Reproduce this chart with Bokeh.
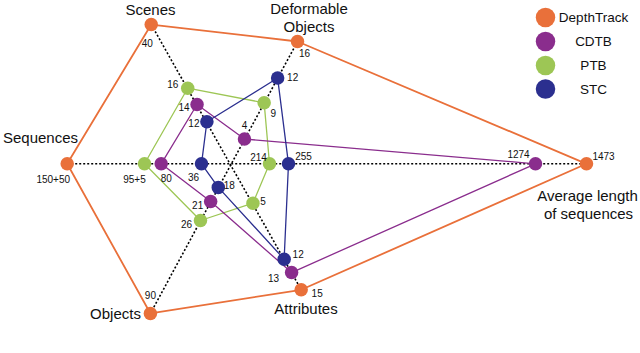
import math
from bokeh.plotting import figure
from bokeh.models import Range1d
from bokeh.core.properties import value
from bokeh.embed import file_html
from bokeh.resources import INLINE

# ---------------- data ----------------
axis_names = ["Sequences", "Scenes", "Deformable Objects",
              "Average length of sequences", "Attributes", "Objects"]
series_names = ["DepthTrack", "CDTB", "PTB", "STC"]

# printed values per axis (Sequences, Scenes, Deformable, Avg length, Attributes, Objects)
depthtrack_values = ["150+50", "40", "16", "1473", "15", "90"]
cdtb_values = ["80", "14", "4", "1274", "13", "21"]
ptb_values = ["95+5", "16", "9", "214", "5", "26"]
stc_values = ["36", "12", "12", "255", "12", "18"]

# radial position of each value along its axis (schematic scale)
depthtrack_radius = [163.8, 160.5, 139.2, 355.5, 144.2, 170.0]
cdtb_radius = [69.8, 68.3, 28.2, 304.5, 124.5, 42.9]
ptb_radius = [86.5, 87.1, 69.4, 38.5, 45.1, 64.4]
stc_radius = [29.5, 48.5, 97.6, 57.5, 109.2, 26.8]

# ---------------- layout / style ----------------
CX, CY = 230.5, 163.3
axis_angles = [180.0, 119.8, 61.46, 0.0, -60.88, 241.7]
colors = {"DepthTrack": "#E9703A", "CDTB": "#8A2D8D",
          "PTB": "#9DC655", "STC": "#2B2F8F"}
FONT = value("Liberation Sans")

label_offsets = {
    "DepthTrack": [(-14, 15), (-4, 18), (7, 11), (17, -8), (16, 3), (0, -18)],
    "CDTB": [(5, 14), (-13, 2), (0, -14), (-17, -10), (-18, 5), (-13, 3)],
    "PTB": [(-10, 15), (-15, -4), (9, 10), (-11, -7), (10, -2), (-14, 3)],
    "STC": [(-8, 13), (-13, 1), (15, -1), (15, -8), (14, -5), (11, -2)],
}

values = {"DepthTrack": depthtrack_values, "CDTB": cdtb_values,
          "PTB": ptb_values, "STC": stc_values}
radii = {"DepthTrack": depthtrack_radius, "CDTB": cdtb_radius,
         "PTB": ptb_radius, "STC": stc_radius}


def to_xy(rs):
    xs, ys = [], []
    for r, a in zip(rs, axis_angles):
        t = math.radians(a)
        xs.append(CX + r * math.cos(t))
        ys.append(CY - r * math.sin(t))
    return xs, ys


p = figure(width=640, height=353, output_backend="svg", toolbar_location=None,
           x_range=Range1d(0, 640), y_range=Range1d(353, 0),
           min_border=0, min_border_left=0, min_border_right=0,
           min_border_top=0, min_border_bottom=0)
p.axis.visible = False
p.grid.visible = False
p.outline_line_color = None
p.background_fill_color = "white"

# dotted axes joining opposite outer points
dx, dy = to_xy(depthtrack_radius)
for i, j in [(0, 3), (1, 4), (2, 5)]:
    p.line([dx[i], dx[j]], [dy[i], dy[j]], line_color="black",
           line_width=1.6, line_dash="2 2")

# polygons
order = ["DepthTrack", "PTB", "CDTB", "STC"]
for s in order:
    xs, ys = to_xy(radii[s])
    lw = 1.8 if s == "DepthTrack" else 1.3
    p.line(xs + [xs[0]], ys + [ys[0]], line_color=colors[s], line_width=lw)

for s in order:
    xs, ys = to_xy(radii[s])
    p.scatter(xs, ys, size=13.5, fill_color=colors[s], line_color=None)
    lx = [x + o[0] for x, o in zip(xs, label_offsets[s])]
    ly = [y + o[1] for y, o in zip(ys, label_offsets[s])]
    p.text(lx, ly, text=values[s], text_font=FONT, text_font_size="10px",
           text_align="center", text_baseline="middle", text_color="#111111")

# axis titles
title_x = [40, 150, 308.5, 308.5, 587, 588, 305.5, 115]
title_y = [137, 9, 8, 25.5, 195, 213, 308, 313]
title_t = ["Sequences", "Scenes", "Deformable", "Objects",
           "Average length", "of sequences", "Attributes", "Objects"]
p.text(title_x, title_y, text=title_t, text_font=FONT, text_font_size="15px",
       text_align="center", text_baseline="middle", text_color="#111111")

# legend
leg_y = [17, 41, 65, 88.5]
p.scatter([545] * 4, leg_y, size=19.5,
          fill_color=[colors[s] for s in series_names], line_color=None)
p.text([593] * 4, leg_y, text=series_names, text_font=FONT,
       text_font_size="13.5px", text_align="center", text_baseline="middle",
       text_color="#111111")

open("out.html", "w").write(file_html(p, INLINE))
